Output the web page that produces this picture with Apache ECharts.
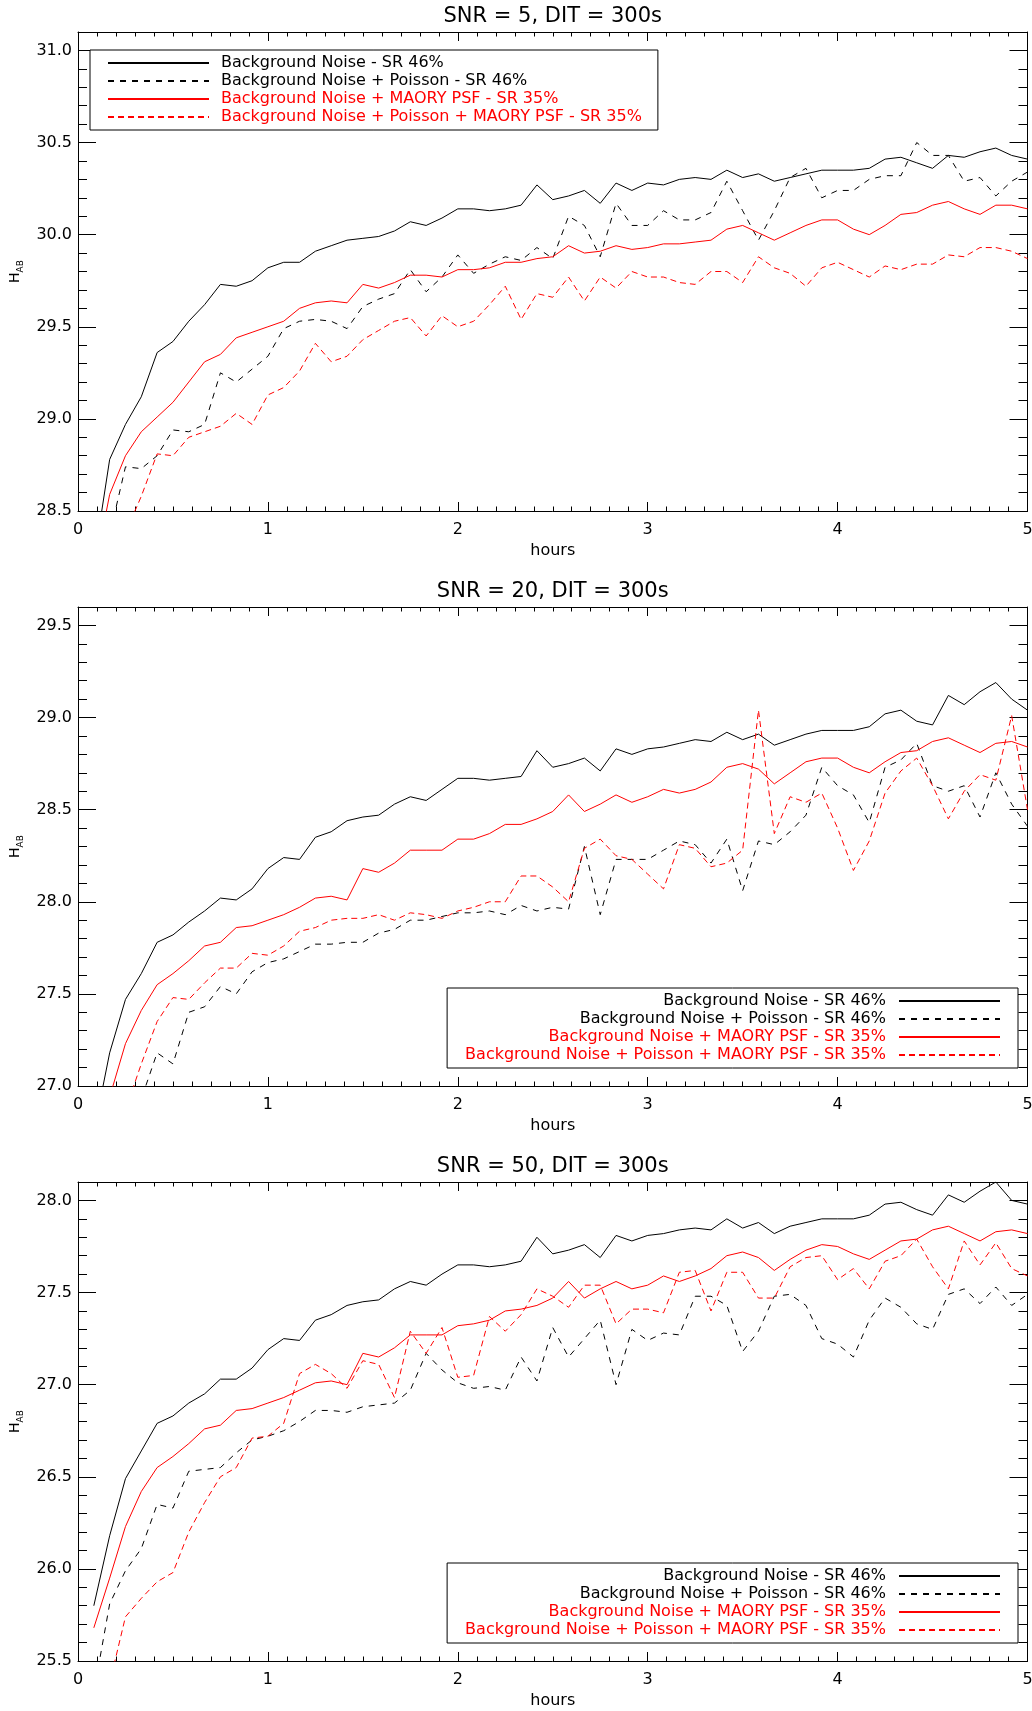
<!DOCTYPE html>
<html><head><meta charset="utf-8">
<script src="https://cdn.jsdelivr.net/npm/echarts@6/dist/echarts.min.js"></script>
<style>html,body{margin:0;padding:0;background:#fff}#c{width:1032px;height:1711px}</style>
</head><body><div id="c"></div>
<script>
// time of each 300 s exposure, in hours
const hours = [0.0833,0.1667,0.25,0.3333,0.4167,0.5,0.5833,0.6667,0.75,0.8333,0.9167,1,1.0833,1.1667,1.25,1.3333,1.4167,1.5,1.5833,1.6667,1.75,1.8333,1.9167,2,2.0833,2.1667,2.25,2.3333,2.4167,2.5,2.5833,2.6667,2.75,2.8333,2.9167,3,3.0833,3.1667,3.25,3.3333,3.4167,3.5,3.5833,3.6667,3.75,3.8333,3.9167,4,4.0833,4.1667,4.25,4.3333,4.4167,4.5,4.5833,4.6667,4.75,4.8333,4.9167,5];

const seriesNames = ['Background Noise - SR 46%','Background Noise + Poisson - SR 46%','Background Noise + MAORY PSF - SR 35%','Background Noise + Poisson + MAORY PSF - SR 35%'];
const chartTitles = ['SNR = 5, DIT = 300s','SNR = 20, DIT = 300s','SNR = 50, DIT = 300s'];
const yMins = [28.5, 27.0, 25.5];
const yMaxs = [31.1, 29.6, 28.1];
const xTickInterval = 1;
const yTickInterval = 0.5;

// SNR = 5
const snr5_bg = [28.22,28.78,28.97,29.12,29.36,29.42,29.53,29.62,29.73,29.72,29.75,29.82,29.85,29.85,29.91,29.94,29.97,29.98,29.99,30.02,30.07,30.05,30.09,30.14,30.14,30.13,30.14,30.16,30.27,30.19,30.21,30.24,30.17,30.28,30.24,30.28,30.27,30.30,30.31,30.30,30.35,30.31,30.33,30.29,30.31,30.33,30.35,30.35,30.35,30.36,30.41,30.42,30.39,30.36,30.43,30.42,30.45,30.47,30.43,30.41];
const snr5_bgP = [27.95,28.37,28.74,28.73,28.80,28.94,28.93,28.97,29.25,29.20,29.27,29.34,29.49,29.53,29.54,29.53,29.49,29.61,29.65,29.68,29.81,29.69,29.77,29.89,29.79,29.84,29.88,29.86,29.93,29.87,30.10,30.05,29.88,30.17,30.05,30.05,30.13,30.08,30.08,30.12,30.29,30.13,29.97,30.13,30.31,30.36,30.20,30.24,30.24,30.30,30.32,30.32,30.50,30.43,30.43,30.29,30.31,30.21,30.29,30.34];
const snr5_bgM = [28.15,28.59,28.80,28.93,29.01,29.09,29.20,29.31,29.35,29.44,29.47,29.50,29.53,29.60,29.63,29.64,29.63,29.73,29.71,29.74,29.78,29.78,29.77,29.81,29.81,29.82,29.85,29.85,29.87,29.88,29.94,29.90,29.91,29.94,29.92,29.93,29.95,29.95,29.96,29.97,30.03,30.05,30.01,29.97,30.01,30.05,30.08,30.08,30.03,30.00,30.05,30.11,30.12,30.16,30.18,30.14,30.11,30.16,30.16,30.14];
const snr5_bgPM = [28.00,28.20,28.38,28.58,28.81,28.80,28.90,28.93,28.96,29.03,28.97,29.13,29.17,29.26,29.41,29.31,29.34,29.43,29.48,29.53,29.55,29.45,29.56,29.50,29.53,29.62,29.72,29.54,29.68,29.66,29.77,29.64,29.77,29.71,29.80,29.77,29.77,29.74,29.73,29.80,29.80,29.74,29.88,29.82,29.79,29.72,29.82,29.85,29.81,29.77,29.83,29.81,29.84,29.84,29.89,29.88,29.93,29.93,29.91,29.87];

// SNR = 20
const snr20_bg = [26.75,27.18,27.47,27.61,27.78,27.82,27.89,27.95,28.02,28.01,28.07,28.18,28.24,28.23,28.35,28.38,28.44,28.46,28.47,28.53,28.57,28.55,28.61,28.67,28.67,28.66,28.67,28.68,28.82,28.73,28.75,28.78,28.71,28.83,28.80,28.83,28.84,28.86,28.88,28.87,28.92,28.88,28.91,28.85,28.88,28.91,28.93,28.93,28.93,28.95,29.02,29.04,28.98,28.96,29.12,29.07,29.14,29.19,29.10,29.04];
const snr20_bgP = [26.00,26.30,26.60,26.93,27.18,27.12,27.40,27.43,27.54,27.50,27.62,27.67,27.69,27.73,27.77,27.77,27.78,27.78,27.83,27.85,27.90,27.90,27.92,27.94,27.94,27.95,27.93,27.98,27.95,27.97,27.96,28.30,27.93,28.23,28.23,28.23,28.28,28.33,28.31,28.21,28.34,28.06,28.33,28.31,28.38,28.47,28.73,28.63,28.58,28.43,28.73,28.77,28.86,28.63,28.60,28.63,28.46,28.70,28.53,28.41];
const snr20_bgM = [26.55,26.94,27.23,27.41,27.55,27.61,27.68,27.76,27.78,27.86,27.87,27.90,27.93,27.97,28.02,28.03,28.01,28.18,28.16,28.21,28.28,28.28,28.28,28.34,28.34,28.37,28.42,28.42,28.45,28.49,28.58,28.49,28.53,28.58,28.54,28.57,28.61,28.59,28.61,28.65,28.73,28.75,28.72,28.64,28.70,28.76,28.78,28.78,28.73,28.70,28.76,28.81,28.82,28.87,28.89,28.85,28.81,28.86,28.87,28.84];
const snr20_bgPM = [26.30,26.60,26.87,27.12,27.35,27.48,27.47,27.56,27.64,27.64,27.72,27.71,27.76,27.84,27.86,27.90,27.91,27.91,27.93,27.90,27.94,27.93,27.91,27.95,27.97,28.00,28.00,28.14,28.14,28.08,28.00,28.29,28.34,28.25,28.23,28.15,28.07,28.31,28.29,28.19,28.21,28.28,29.04,28.37,28.57,28.54,28.59,28.40,28.17,28.33,28.59,28.71,28.78,28.63,28.45,28.60,28.69,28.66,29.01,28.50];

// SNR = 50
const snr50_bg = [25.80,26.18,26.49,26.64,26.79,26.83,26.90,26.95,27.03,27.03,27.09,27.19,27.25,27.24,27.35,27.38,27.43,27.45,27.46,27.52,27.56,27.54,27.60,27.65,27.65,27.64,27.65,27.67,27.80,27.71,27.73,27.76,27.69,27.81,27.78,27.81,27.82,27.84,27.85,27.84,27.90,27.85,27.88,27.82,27.86,27.88,27.90,27.90,27.90,27.92,27.98,27.99,27.95,27.92,28.03,27.99,28.05,28.10,28.00,27.98];
const snr50_bgP = [25.33,25.81,25.99,26.11,26.35,26.33,26.53,26.54,26.55,26.63,26.70,26.72,26.75,26.80,26.86,26.86,26.85,26.88,26.89,26.90,26.97,27.17,27.08,27.01,26.98,26.99,26.97,27.15,27.02,27.31,27.15,27.25,27.35,27.00,27.30,27.24,27.28,27.27,27.48,27.48,27.43,27.18,27.29,27.48,27.49,27.43,27.25,27.22,27.15,27.35,27.47,27.42,27.33,27.30,27.49,27.52,27.44,27.53,27.43,27.49];
const snr50_bgM = [25.68,25.95,26.23,26.42,26.55,26.61,26.68,26.76,26.78,26.86,26.87,26.90,26.93,26.97,27.01,27.02,27.00,27.17,27.15,27.20,27.27,27.27,27.27,27.32,27.33,27.35,27.40,27.41,27.43,27.47,27.56,27.47,27.52,27.56,27.52,27.54,27.59,27.56,27.59,27.63,27.70,27.72,27.69,27.62,27.68,27.73,27.76,27.75,27.71,27.68,27.73,27.78,27.79,27.84,27.86,27.82,27.78,27.83,27.84,27.82];
const snr50_bgPM = [25.00,25.38,25.74,25.84,25.93,25.98,26.20,26.36,26.50,26.55,26.71,26.72,26.79,27.06,27.11,27.06,26.98,27.13,27.11,26.93,27.29,27.17,27.31,27.04,27.05,27.37,27.29,27.38,27.52,27.48,27.42,27.54,27.54,27.33,27.41,27.41,27.39,27.61,27.62,27.40,27.61,27.61,27.47,27.47,27.64,27.69,27.70,27.57,27.63,27.52,27.67,27.70,27.79,27.64,27.52,27.78,27.65,27.77,27.63,27.59];

const chartSeries = [
  [snr5_bg, snr5_bgP, snr5_bgM, snr5_bgPM],
  [snr20_bg, snr20_bgP, snr20_bgM, snr20_bgPM],
  [snr50_bg, snr50_bgP, snr50_bgM, snr50_bgPM]
];

// ---- styling / layout ----
const FONT = 'DejaVu Sans';
const colors = ['#000000', '#000000', '#ff0000', '#ff0000'];
const dashes = ['solid', [6, 6], 'solid', [6, 4]];
const gridTops = [32, 607, 1182];
const titleTops = [6, 581, 1156];
const gridH = 479, gridL = 78, gridW = 949.5;

const grids = [], xAxes = [], yAxes = [], series = [], titles = [], legends = [];

chartSeries.forEach((group, i) => {
  grids.push({ left: gridL, top: gridTops[i], width: gridW, height: gridH, containLabel: false, outerBoundsMode: 'none' });

  titles.push({
    text: chartTitles[i], left: gridL + gridW / 2, top: titleTops[i], textAlign: 'center', padding: 0,
    textStyle: { fontFamily: FONT, fontSize: 21, fontWeight: 'normal', color: '#000' }
  });

  const xCommon = {
    type: 'value', gridIndex: i, min: 0, max: 5, interval: xTickInterval,
    axisLine: { show: true, onZero: false, lineStyle: { color: '#000', width: 1 } },
    axisTick: { show: true, inside: true, length: 9, lineStyle: { color: '#000', width: 1 } },
    minorTick: { show: true, splitNumber: 10, length: 4.5, lineStyle: { color: '#000', width: 1 } },
    splitLine: { show: false }, minorSplitLine: { show: false }
  };
  xAxes.push(Object.assign({}, xCommon, {
    position: 'bottom', name: 'hours', nameLocation: 'middle', nameGap: 32,
    nameTextStyle: { fontFamily: FONT, fontSize: 16, color: '#000' },
    axisLabel: { show: true, margin: 11, fontFamily: FONT, fontSize: 16, color: '#000' }
  }));
  xAxes.push(Object.assign({}, xCommon, { position: 'top', axisLabel: { show: false } }));

  const yCommon = {
    type: 'value', gridIndex: i, min: yMins[i], max: yMaxs[i], interval: yTickInterval,
    axisLine: { show: true, onZero: false, lineStyle: { color: '#000', width: 1 } },
    axisTick: { show: true, inside: true, length: 18, lineStyle: { color: '#000', width: 1 } },
    minorTick: { show: true, splitNumber: 5, length: 9, lineStyle: { color: '#000', width: 1 } },
    splitLine: { show: false }, minorSplitLine: { show: false }
  };
  yAxes.push(Object.assign({}, yCommon, {
    position: 'left', name: '{h|H}{s|AB}', nameLocation: 'middle', nameRotate: 90, nameGap: 50,
    nameTextStyle: {
      color: '#000',
      rich: {
        h: { fontFamily: FONT, fontSize: 14, lineHeight: 20, color: '#000' },
        s: { fontFamily: FONT, fontSize: 9, lineHeight: 9, verticalAlign: 'bottom', color: '#000' }
      }
    },
    axisLabel: {
      show: true, margin: 6, fontFamily: FONT, fontSize: 16, color: '#000',
      showMaxLabel: false, formatter: v => v.toFixed(1)
    }
  }));
  yAxes.push(Object.assign({}, yCommon, { position: 'right', axisLabel: { show: false } }));

  group.forEach((vals, j) => {
    series.push({
      type: 'line', name: seriesNames[j], xAxisIndex: 2 * i, yAxisIndex: 2 * i,
      data: hours.map((h, k) => [h, vals[k]]),
      symbol: 'none', showSymbol: false, clip: true, silent: true,
      lineStyle: { color: colors[j], width: 1, type: dashes[j] },
      itemStyle: { color: colors[j] },
      emphasis: { disabled: true }
    });
  });

  const leftAligned = i === 0;
  const lg = {
    orient: 'vertical', selectedMode: false,
    itemWidth: 101, itemHeight: 18, itemGap: 0,
    borderColor: '#000', borderWidth: 1, borderRadius: 0, backgroundColor: '#fff',
    itemStyle: { opacity: 0 },
    textStyle: { fontFamily: FONT, fontSize: 16, lineHeight: 18, padding: leftAligned ? [0, 0, 0, 7] : [0, 8, 0, 0] },
    data: seriesNames.map((n, j) => ({ name: n, textStyle: { color: colors[j] } }))
  };
  if (leftAligned) {
    Object.assign(lg, { left: 90, top: 50, align: 'left', padding: [4, 16, 4, 17] });
  } else {
    Object.assign(lg, { right: 14, top: gridTops[i] + 381, align: 'right', padding: [4, 17, 4, 18] });
  }
  legends.push(lg);
});

const chart = echarts.init(document.getElementById('c'), null, { renderer: 'canvas' });
chart.setOption({
  animation: false,
  backgroundColor: '#ffffff',
  textStyle: { fontFamily: FONT },
  title: titles,
  grid: grids,
  xAxis: xAxes,
  yAxis: yAxes,
  legend: legends,
  series: series
});
</script>
</body></html>
